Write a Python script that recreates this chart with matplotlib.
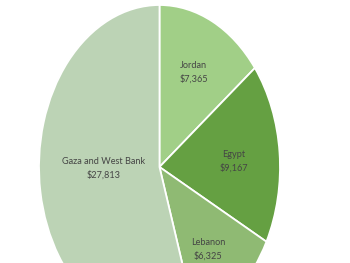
import numpy as np
from matplotlib import pyplot as plt

# remittances by destination (USD)
regions = ['Jordan', 'Egypt', 'Lebanon', 'Gaza and West Bank']
amounts = [7365, 9167, 6325, 27813]
colors = ['#a1cf87', '#65a042', '#8fba73', '#bcd3b5']

fig = plt.figure(figsize=(3.5, 2.63), dpi=100)
# ellipse is stretched vertically and cut off at the bottom
ax = fig.add_axes([39 / 350, -66 / 263, 241 / 350, 324 / 263])

wedges, _ = ax.pie(amounts, colors=colors, startangle=90, counterclock=False,
                   wedgeprops=dict(edgecolor='white', linewidth=1.3))
ax.set_aspect('auto')
ax.set_xlim(-1, 1)
ax.set_ylim(-1, 1)

# label radius and small nudges to match the original placement
dist = [0.64, 0.62, 0.64, 0.5]
nudge = [(0, 0.01), (0, -0.02), (-0.01, -0.02), (0.03, 0.07)]
for w, name, val, r, (nx, ny) in zip(wedges, regions, amounts, dist, nudge):
    mid = np.deg2rad((w.theta1 + w.theta2) / 2)
    ax.text(r * np.cos(mid) + nx, r * np.sin(mid) + ny, f'{name}\n\\${val:,}',
            ha='center', va='center', fontsize=6.6, color='#454545',
            family='Lato', linespacing=1.55)

fig.savefig('out.png', dpi=100)
